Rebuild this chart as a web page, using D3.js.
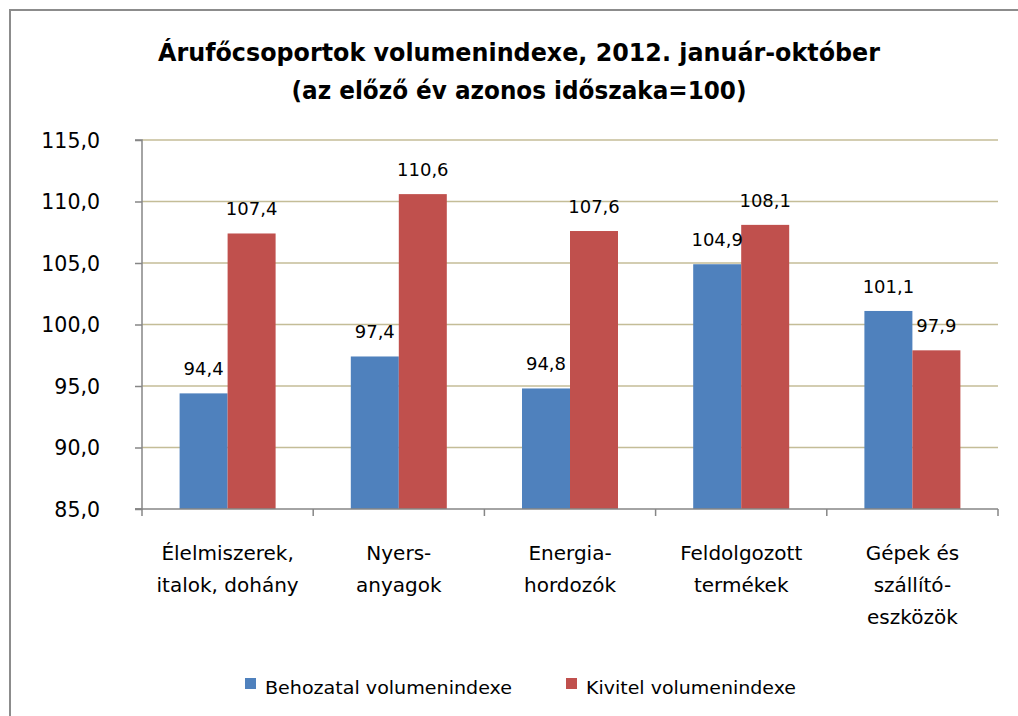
<!DOCTYPE html>
<html><head><meta charset="utf-8">
<script src="https://cdn.jsdelivr.net/npm/d3@7"></script>
<style>body{margin:0;background:#fff}svg{display:block}text{font-family:"DejaVu Sans",sans-serif;fill:#000}</style>
</head><body><svg id="c" width="1018" height="716"></svg>
<script>
const titleLines = ["Árufőcsoportok volumenindexe, 2012. január-október", "(az előző év azonos időszaka=100)"];
const categories = ["Élelmiszerek,\nitalok, dohány", "Nyers-\nanyagok", "Energia-\nhordozók", "Feldolgozott\ntermékek", "Gépek és\nszállító-\neszközök"];
const seriesNames = ["Behozatal volumenindexe", "Kivitel volumenindexe"];
const behozatal = [94.4, 97.4, 94.8, 104.9, 101.1];
const kivitel = [107.4, 110.6, 107.6, 108.1, 97.9];
const yTicks = [85, 90, 95, 100, 105, 110, 115];
const colors = ["#4F81BD", "#C0504D"];

const svg = d3.select("#c");
svg.append("path").attr("d", "M10,716 V10 H1018").attr("fill", "none").attr("stroke", "#8c8c8c").attr("stroke-width", 2);

const L = 142, R = 998, T = 140, B = 509;
const y = d3.scaleLinear().domain([85, 115]).range([B, T]);
const x0 = d3.scaleBand().domain(categories).range([L, R]).paddingInner(0).paddingOuter(0);
const x1 = d3.scaleBand().domain([0, 1]).range([(x0.bandwidth() - 96) / 2, (x0.bandwidth() + 96) / 2]);

// title
const tW = [722, 455];
titleLines.forEach((t, i) => {
  svg.append("text").attr("x", 519).attr("y", 61 + i * 38).attr("text-anchor", "middle")
    .attr("font-size", 25).attr("font-weight", "bold").attr("textLength", tW[i]).attr("lengthAdjust", "spacingAndGlyphs").text(t);
});

// gridlines
svg.append("g").selectAll("line").data(yTicks.filter(d => d > 85)).join("line")
  .attr("x1", L).attr("x2", R).attr("y1", d => y(d)).attr("y2", d => y(d))
  .attr("stroke", "#C4BD97").attr("stroke-width", 1.5);

// y axis
const yAxis = d3.axisLeft(y).tickValues(yTicks).tickSize(7).tickPadding(35)
  .tickFormat(d => d3.format(".1f")(d).replace(".", ","));
const gy = svg.append("g").attr("transform", `translate(${L},0)`).call(yAxis);
gy.select(".domain").attr("stroke", "#868686").attr("stroke-width", 1.5).attr("d", `M-7,${T}H0V${B}H-7`);
gy.selectAll(".tick line").attr("stroke", "#868686").attr("stroke-width", 1.5);
gy.selectAll(".tick text").attr("font-size", 20.5).attr("font-family", "DejaVu Sans").attr("fill", "#000").attr("dy", "0.36em");

// bars
const rows = categories.map((c, i) => ({c, v: [behozatal[i], kivitel[i]]}));
const g = svg.append("g").selectAll("g").data(rows).join("g").attr("transform", d => `translate(${x0(d.c)},0)`);
g.selectAll("rect").data(d => d.v.map((v, k) => ({v, k}))).join("rect")
  .attr("x", d => x1(d.k)).attr("width", x1.bandwidth())
  .attr("y", d => y(d.v)).attr("height", d => B - y(d.v)).attr("fill", d => colors[d.k]);
g.selectAll("text.val").data(d => d.v.map((v, k) => ({v, k}))).join("text").attr("class", "val")
  .attr("x", d => x1(d.k) + x1.bandwidth() / 2).attr("y", d => y(d.v) - 18).attr("text-anchor", "middle")
  .attr("font-size", 18).text(d => d3.format(".1f")(d.v).replace(".", ","));

// x axis
const gx = svg.append("g").attr("transform", `translate(0,${B})`);
gx.append("line").attr("x1", L - 7).attr("x2", R).attr("stroke", "#868686").attr("stroke-width", 1.5);
const bounds = categories.map(c => x0(c)).concat([R]);
gx.selectAll("line.t").data(bounds).join("line").attr("class", "t")
  .attr("x1", d => d).attr("x2", d => d).attr("y1", 0).attr("y2", 7).attr("stroke", "#868686").attr("stroke-width", 1.5);
categories.forEach(c => {
  const t = gx.append("text").attr("text-anchor", "middle").attr("font-size", 20);
  c.split("\n").forEach((ln, j) => t.append("tspan").attr("x", x0(c) + x0.bandwidth() / 2).attr("y", 51 + j * 32).text(ln));
});

// legend
const legX = [245, 566], legW = [247, 210];
seriesNames.forEach((s, i) => {
  svg.append("rect").attr("x", legX[i]).attr("y", 678).attr("width", 11).attr("height", 11).attr("fill", colors[i]);
  svg.append("text").attr("x", legX[i] + 20).attr("y", 694).attr("font-size", 18.5)
    .attr("textLength", legW[i]).attr("lengthAdjust", "spacingAndGlyphs").text(s);
});
</script></body></html>
